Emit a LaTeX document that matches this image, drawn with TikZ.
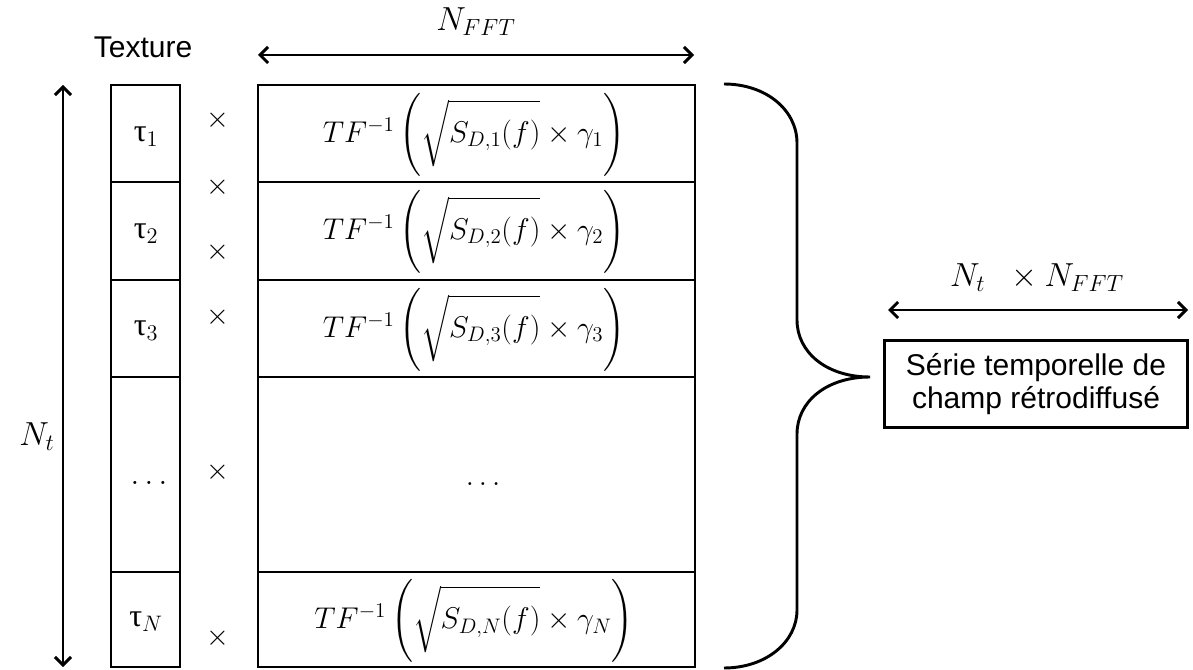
\RequirePackage{fix-cm}
\documentclass[tikz,border=0pt]{standalone}
\usepackage{amsmath}
\usepackage[no-math]{fontspec}
\setmainfont{Liberation Sans}
\newfontfamily\taufont{Liberation Serif}
\usetikzlibrary{arrows.meta}
\newcommand{\tfrow}[2]{$TF^{-1}\left(\vcenter to 56pt{}\sqrt{\vphantom{\vcenter to 42pt{}}S_{D,#1}(f)}\times\gamma_{#2}\right)$}
\begin{document}
\begin{tikzpicture}[x=0.75pt,y=-0.75pt,
  frame/.style={line width=2.2pt},
  dimarrow/.style={line width=2.2pt,{Straight Barb[length=6pt,width=12pt]}-{Straight Barb[length=6pt,width=12pt]}},
  txt/.style={font=\fontsize{22.5}{27}\selectfont, inner sep=0pt},
  mlbl/.style={font=\fontsize{25}{30}\selectfont, inner sep=0pt},
  formula/.style={font=\fontsize{22.5}{28}\selectfont, inner sep=0pt},
  taulbl/.style={font=\fontsize{24}{28}\selectfont, inner sep=0pt},
  timeslbl/.style={font=\fontsize{22}{26}\selectfont, inner sep=0pt},
  resbox/.style={draw, line width=2.2pt, font=\fontsize{22.5}{25}\selectfont, align=center,
    minimum width=227pt, minimum height=65pt, inner sep=2pt}
]
\useasboundingbox (0,0) rectangle (1193,670);

% labels
\node[txt] (texture) at (143,47) {Texture};
\node[mlbl] (nfft) at (476,22) {$N_{FFT}$};
\node[mlbl] (nt) at (37,437) {$N_t$};
\node[mlbl] (ntnfft) at (1037,278) {$N_t\;\;\times N_{FFT}$};

% dimension arrows
\coordinate (ha) at (258,55); \coordinate (hb) at (694,55);
\draw[dimarrow] (ha) -- (hb);
\coordinate (va) at (63,85); \coordinate (vb) at (63,667);
\draw[dimarrow] (va) -- (vb);
\coordinate (ra) at (888,310); \coordinate (rb) at (1188,310);
\draw[dimarrow] (ra) -- (rb);

% texture column
\draw[frame] (111,85) rectangle (180,667);
\foreach \yy in {182,280,377,572} \draw[frame] (111,\yy) -- (180,\yy);
% matrix
\draw[frame] (258,85) rectangle (695,667);
\foreach \yy in {182,280,377,572} \draw[frame] (258,\yy) -- (695,\yy);

% tau cells
\node[taulbl] (tau1) at (146,137) {{\taufont τ}$_1$};
\node[taulbl] (tau2) at (146,234) {{\taufont τ}$_2$};
\node[taulbl] (tau3) at (146,331) {{\taufont τ}$_3$};
\node[taulbl] (taud) at (149,483) {$\ldots$};
\node[taulbl] (tauN) at (146,622) {{\taufont τ}$_N$};

% multiplication signs
\foreach \yy/\nm in {120/m1,187/m2,252/m3,317/m4,472/m5,638/m6}
  \node[timeslbl] (\nm) at (218,\yy) {$\times$};

% formulas
\node[formula] (f1) at (474,135) {\tfrow{1}{1}};
\node[formula] (f2) at (474,232) {\tfrow{2}{2}};
\node[formula] (f3) at (474,330) {\tfrow{3}{3}};
\node[formula] (fd) at (483,484) {$\ldots$};
\node[formula] (fN) at (474,621) {\tfrow{N}{N}};

% brace
\draw[line width=2.2pt] (724,84) .. controls (766,84) and (797,110) .. (797,143)
  -- (797,320) .. controls (797,352) and (826,377) .. (870,377)
  .. controls (826,377) and (797,402) .. (797,434)
  -- (797,610) .. controls (797,642) and (766,668) .. (724,668);

% result box
\node[resbox] (serie) at (1036,384) {Série temporelle de\\champ rétrodiffusé};
\end{tikzpicture}
\end{document}
